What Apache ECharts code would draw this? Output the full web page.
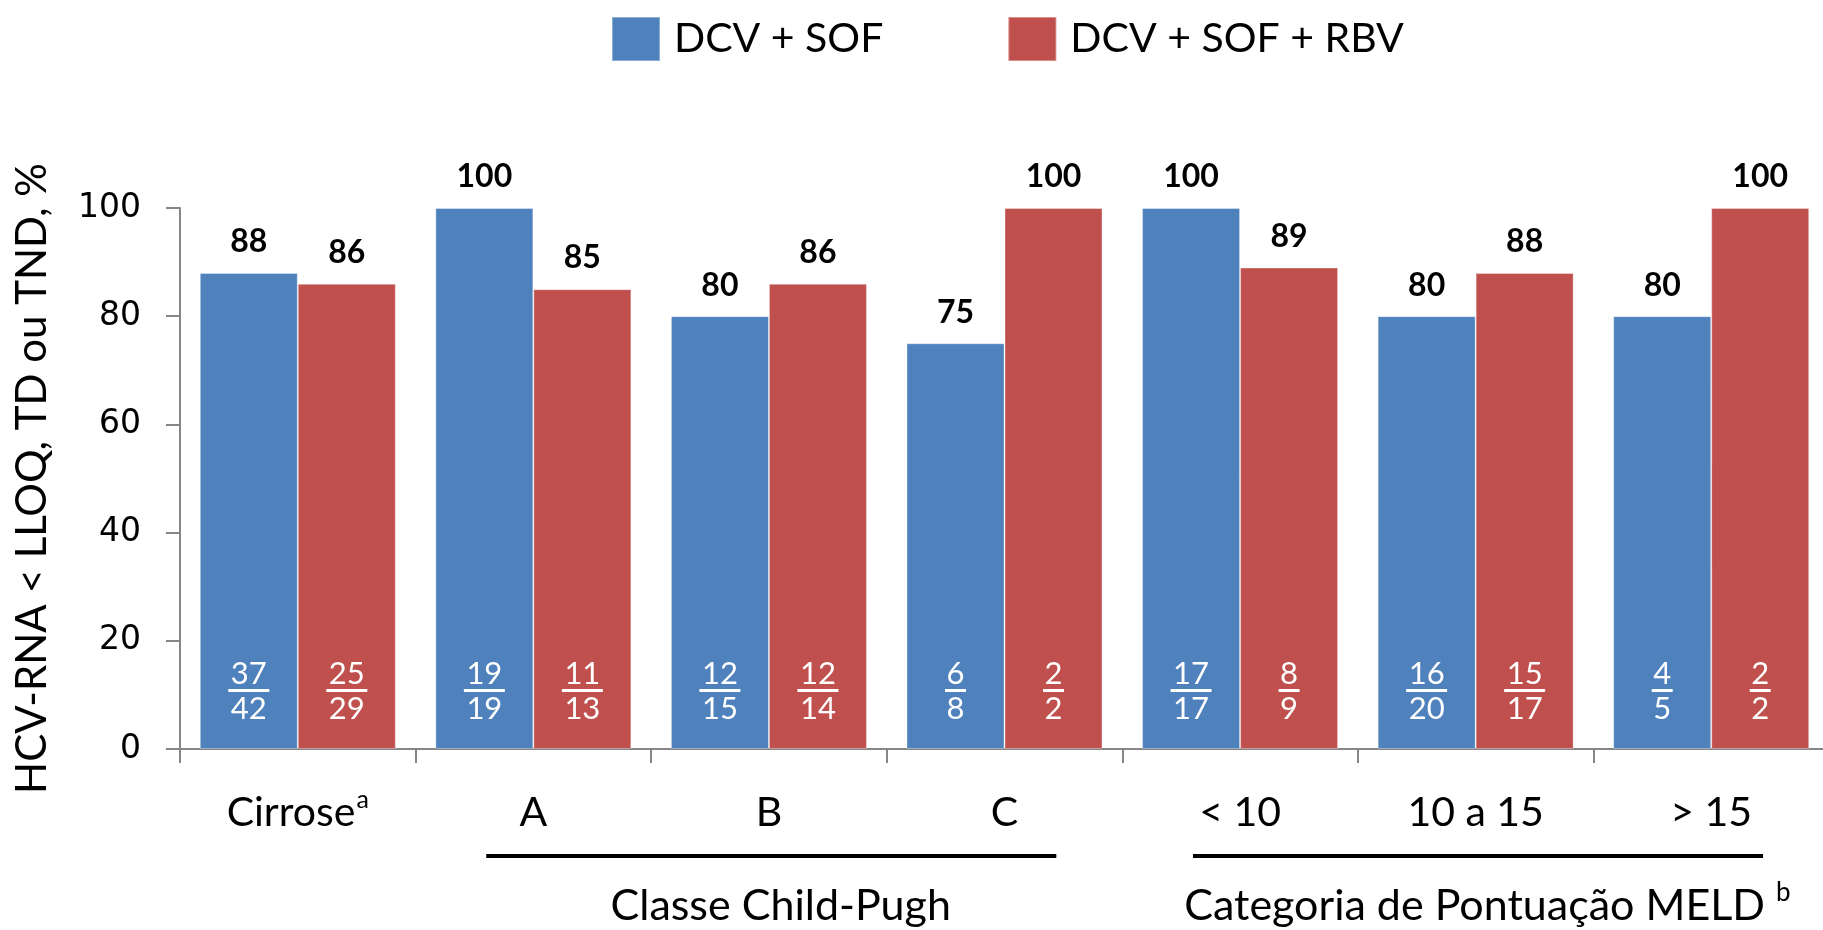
<!DOCTYPE html>
<html>
<head>
<meta charset="utf-8">
<script src="https://cdn.jsdelivr.net/npm/echarts@6.0.0/dist/echarts.min.js"></script>
<style>
  html, body { margin: 0; padding: 0; background: #fff; }
  #chart { width: 1823px; height: 930px; }
</style>
</head>
<body>
<div id="chart"></div>
<script>
// Categories and group annotations
const categories = ['Cirrose', 'A', 'B', 'C', '< 10', '10 a 15', '> 15'];
const categorySup = { 'Cirrose': 'a' };
const groups = [
  { label: 'Classe Child-Pugh', sup: '', from: 'A', to: 'C' },
  { label: 'Categoria de Pontuação MELD', sup: 'b', from: '< 10', to: '> 15' }
];

// Series
const seriesNames = ['DCV + SOF', 'DCV + SOF + RBV'];
const dcvSof = [88, 100, 80, 75, 100, 80, 80];
const dcvSofRbv = [86, 85, 86, 100, 89, 88, 100];

// Responders / patients per bar
const dcvSofResp = [37, 19, 12, 6, 17, 16, 4];
const dcvSofTotal = [42, 19, 15, 8, 17, 20, 5];
const dcvSofRbvResp = [25, 11, 12, 2, 8, 15, 2];
const dcvSofRbvTotal = [29, 13, 14, 2, 9, 17, 2];

// Y axis ticks
const yTicks = [0, 20, 40, 60, 80, 100];

const BLUE = '#4F81BD';
const RED = '#C0504D';
const AXIS = '#868686';
const TEXT_FONT = 'Lato';

const chart = echarts.init(document.getElementById('chart'), null, { renderer: 'canvas' });

function fraction(resp, total) {
  return function (p) {
    const n = resp[p.dataIndex], d = total[p.dataIndex];
    const wide = Math.max(String(n).length, String(d).length) > 1;
    return '{n|' + n + '}\n{' + (wide ? 'w2' : 'w1') + '| }\n{d|' + d + '}';
  };
}

const fracRich = {
  n: { color: '#fff', fontFamily: TEXT_FONT, fontSize: 31, lineHeight: 31, align: 'center' },
  d: { color: '#fff', fontFamily: TEXT_FONT, fontSize: 31, lineHeight: 33, align: 'center' },
  w1: { width: 21, height: 3, lineHeight: 3, fontSize: 1, backgroundColor: '#fff', align: 'center' },
  w2: { width: 41, height: 3, lineHeight: 3, fontSize: 1, backgroundColor: '#fff', align: 'center' }
};

const valueLabel = {
  show: true,
  position: 'top',
  distance: 15,
  color: '#000',
  fontFamily: TEXT_FONT,
  fontWeight: 'bold',
  fontSize: 32
};

const BAR_W = 98;
const barEdge = { borderColor: 'rgba(255,255,255,0.35)', borderWidth: 1 };

chart.setOption({
  animation: false,
  legend: {
    data: seriesNames,
    left: 611,
    top: 16,
    padding: 0,
    itemWidth: 48,
    itemHeight: 44,
    itemGap: 124,
    icon: 'rect',
    textStyle: { fontFamily: TEXT_FONT, fontSize: 41, color: '#000', padding: [0, 0, 0, 9] },
    selectedMode: false
  },
  grid: { left: 180, top: 208, width: 1649, height: 541, outerBoundsMode: 'none', containLabel: false },
  xAxis: [
    {
      type: 'category',
      data: categories,
      axisLine: { lineStyle: { color: AXIS, width: 2 } },
      axisTick: { show: true, length: 14, lineStyle: { color: AXIS, width: 2 } },
      axisLabel: {
        margin: 40,
        formatter: function (v) {
          return categorySup[v] ? '{t|' + v + '}{s|' + categorySup[v] + '}' : '{t|' + v + '}';
        },
        rich: {
          t: { fontFamily: TEXT_FONT, fontSize: 41, color: '#000', verticalAlign: 'bottom', lineHeight: 44 },
          s: { fontFamily: TEXT_FONT, fontSize: 25, color: '#000', verticalAlign: 'bottom', lineHeight: 44, padding: [0, 0, 21, 1] }
        }
      }
    },
    { type: 'category', data: categories, show: false }
  ],
  yAxis: {
    type: 'value',
    min: yTicks[0],
    max: yTicks[yTicks.length - 1],
    interval: yTicks[1] - yTicks[0],
    name: 'HCV-RNA < LLOQ, TD ou TND, %',
    nameLocation: 'middle',
    nameGap: 127,
    nameTextStyle: { fontFamily: TEXT_FONT, fontSize: 42, color: '#000' },
    axisLine: { show: true, lineStyle: { color: AXIS, width: 2 } },
    axisTick: { show: true, length: 14, lineStyle: { color: AXIS, width: 2 } },
    splitLine: { show: false },
    axisLabel: { margin: 39, fontFamily: 'DejaVu Sans', fontSize: 33, color: '#000' }
  },
  series: [
    {
      name: seriesNames[0], type: 'bar', xAxisIndex: 0, data: dcvSof,
      barWidth: BAR_W, barGap: '0%',
      itemStyle: Object.assign({ color: BLUE }, barEdge),
      label: valueLabel
    },
    {
      name: seriesNames[1], type: 'bar', xAxisIndex: 0, data: dcvSofRbv,
      barWidth: BAR_W, barGap: '0%',
      itemStyle: Object.assign({ color: RED }, barEdge),
      label: valueLabel
    },
    {
      name: 'resp-dcv-sof', type: 'bar', xAxisIndex: 1, data: dcvSof,
      barWidth: BAR_W, barGap: '0%', silent: true,
      itemStyle: { color: 'rgba(0,0,0,0)' },
      label: { show: true, position: 'insideBottom', distance: 24, formatter: fraction(dcvSofResp, dcvSofTotal), rich: fracRich }
    },
    {
      name: 'resp-dcv-sof-rbv', type: 'bar', xAxisIndex: 1, data: dcvSofRbv,
      barWidth: BAR_W, barGap: '0%', silent: true,
      itemStyle: { color: 'rgba(0,0,0,0)' },
      label: { show: true, position: 'insideBottom', distance: 24, formatter: fraction(dcvSofRbvResp, dcvSofRbvTotal), rich: fracRich }
    }
  ]
});

// Group brackets under the category labels
const step = chart.convertToPixel({ xAxisIndex: 0 }, categories[1]) - chart.convertToPixel({ xAxisIndex: 0 }, categories[0]);
const graphics = [];
groups.forEach(function (g) {
  const x0 = chart.convertToPixel({ xAxisIndex: 0 }, g.from) - 0.2 * step;
  const x1 = chart.convertToPixel({ xAxisIndex: 0 }, g.to) + 0.22 * step;
  graphics.push({
    type: 'line', shape: { x1: x0, y1: 856, x2: x1, y2: 856 },
    style: { stroke: '#000', lineWidth: 4 }, silent: true
  });
  graphics.push({
    type: 'text', x: (x0 + x1) / 2 + 0.04 * step, y: 905,
    style: {
      text: g.sup ? '{t|' + g.label + ' }{s|' + g.sup + '}' : '{t|' + g.label + '}',
      align: 'center', verticalAlign: 'middle',
      rich: {
        t: { fontFamily: TEXT_FONT, fontSize: 43, fill: '#000', verticalAlign: 'bottom', lineHeight: 46 },
        s: { fontFamily: TEXT_FONT, fontSize: 26, fill: '#000', verticalAlign: 'bottom', lineHeight: 46, padding: [0, 0, 22, 0] }
      }
    },
    silent: true
  });
});
chart.setOption({ graphic: graphics });
</script>
</body>
</html>
